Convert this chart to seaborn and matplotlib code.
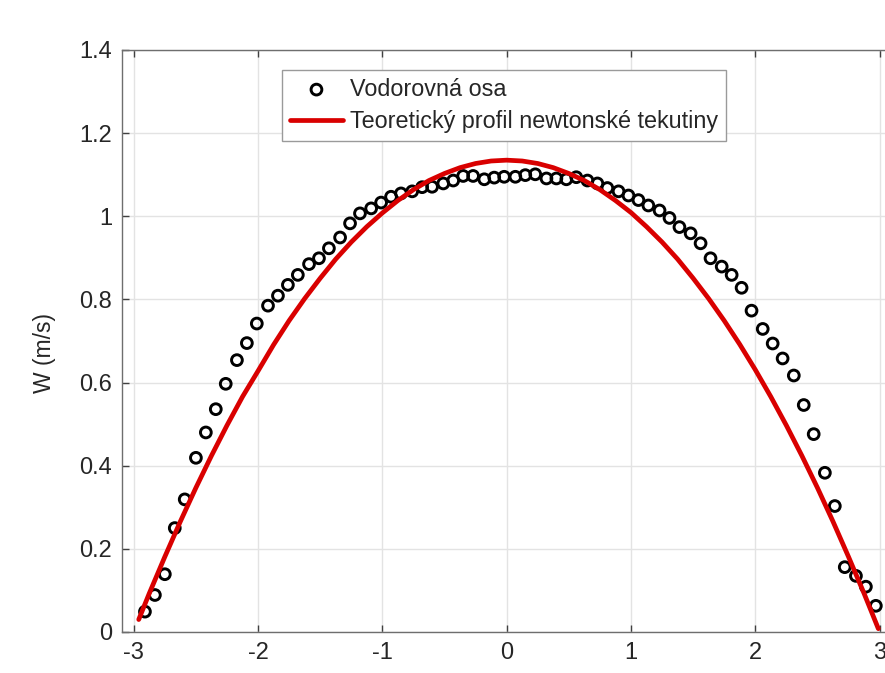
import numpy as np
import pandas as pd
import matplotlib
matplotlib.use("Agg")
import matplotlib.pyplot as plt
import seaborn as sns

# Measured points (Vodorovná osa)
x_meas = [-2.91, -2.83, -2.75, -2.67, -2.59, -2.50, -2.42, -2.34, -2.26, -2.17,
          -2.09, -2.01, -1.92, -1.84, -1.76, -1.68, -1.59, -1.51, -1.43, -1.34,
          -1.26, -1.18, -1.09, -1.01, -0.93, -0.85, -0.76, -0.68, -0.60, -0.51,
          -0.43, -0.35, -0.27, -0.18, -0.10, -0.02, 0.07, 0.15, 0.23, 0.32,
          0.40, 0.48, 0.56, 0.65, 0.73, 0.81, 0.90, 0.98, 1.06, 1.14,
          1.23, 1.31, 1.39, 1.48, 1.56, 1.64, 1.73, 1.81, 1.89, 1.97,
          2.06, 2.14, 2.22, 2.31, 2.39, 2.47, 2.56, 2.64, 2.72, 2.81,
          2.89, 2.97]
w_meas = [0.049, 0.089, 0.139, 0.250, 0.319, 0.419, 0.480, 0.536, 0.597, 0.654,
          0.695, 0.742, 0.785, 0.809, 0.835, 0.859, 0.885, 0.899, 0.923, 0.949,
          0.983, 1.007, 1.019, 1.033, 1.047, 1.055, 1.060, 1.070, 1.071, 1.079,
          1.086, 1.097, 1.097, 1.089, 1.093, 1.095, 1.095, 1.099, 1.101, 1.091,
          1.091, 1.089, 1.094, 1.086, 1.079, 1.068, 1.060, 1.050, 1.039, 1.026,
          1.014, 0.996, 0.974, 0.959, 0.935, 0.899, 0.879, 0.859, 0.828, 0.773,
          0.729, 0.694, 0.658, 0.617, 0.546, 0.476, 0.383, 0.303, 0.156, 0.135,
          0.109, 0.063]

# Theoretical profile
x_theo = [-2.96, -2.875, -2.75, -2.625, -2.5, -2.375, -2.25, -2.125, -2.0, -1.875,
          -1.75, -1.625, -1.5, -1.375, -1.25, -1.125, -1.0, -0.875, -0.75, -0.625,
          -0.5, -0.375, -0.25, -0.125, 0.0, 0.125, 0.25, 0.375, 0.5, 0.625,
          0.75, 0.875, 1.0, 1.125, 1.25, 1.375, 1.5, 1.625, 1.75, 1.875,
          2.0, 2.125, 2.25, 2.375, 2.5, 2.625, 2.75, 2.875, 2.99]
w_theo = [0.030, 0.093, 0.181, 0.266, 0.347, 0.424, 0.497, 0.566, 0.628, 0.691,
          0.749, 0.802, 0.851, 0.897, 0.938, 0.975, 1.008, 1.038, 1.064, 1.086,
          1.103, 1.117, 1.127, 1.133, 1.135, 1.133, 1.127, 1.117, 1.103, 1.086,
          1.064, 1.038, 1.009, 0.975, 0.938, 0.897, 0.851, 0.802, 0.749, 0.692,
          0.631, 0.566, 0.497, 0.424, 0.347, 0.266, 0.181, 0.093, 0.008]

label_meas = "Vodorovná osa"
label_theo = "Teoretický profil newtonské tekutiny"
x_ticks = [-3, -2, -1, 0, 1, 2, 3]
y_ticks = [0, 0.2, 0.4, 0.6, 0.8, 1.0, 1.2, 1.4]
y_ticklabels = ["0", "0.2", "0.4", "0.6", "0.8", "1", "1.2", "1.4"]
x_ticklabels = ["-3", "-2", "-1", "0", "1", "2", "3"]

sns.set_theme(style="white")
plt.rcParams["font.family"] = ["Liberation Sans", "DejaVu Sans"]

fig = plt.figure(figsize=(8.85, 6.73), dpi=100)
left = 121.7 / 885
bottom = (673 - 632) / 673
width = (892 - 121.7) / 885
height = 582 / 673
ax = fig.add_axes([left, bottom, width, height])

df_m = pd.DataFrame({"x": x_meas, "w": w_meas})
df_t = pd.DataFrame({"x": x_theo, "w": w_theo})

sns.scatterplot(data=df_m, x="x", y="w", ax=ax, marker="o", s=60,
                facecolor="none", edgecolor="black", linewidth=2.1,
                label=label_meas, zorder=3)
sns.lineplot(data=df_t, x="x", y="w", ax=ax, color="#d90000", linewidth=3.4,
             label=label_theo, zorder=4, sort=False)

ax.set_xlim(-3.097, 3.1)
ax.set_ylim(0, 1.4)
ax.set_xticks(x_ticks)
ax.set_xticklabels(x_ticklabels)
ax.set_yticks(y_ticks)
ax.set_yticklabels(y_ticklabels)
ax.grid(True, color="#e3e3e3", linewidth=1.0)
ax.set_axisbelow(True)

ax.set_xlabel("")
ax.set_ylabel("W (m/s)", fontsize=16.5, color="#262626")
ax.yaxis.set_label_coords(-0.085, 0.48)
ax.tick_params(axis="both", which="both", direction="in", length=5, width=1,
               colors="#404040", labelsize=17, labelcolor="#262626",
               top=True, right=True, left=True, bottom=True, pad=7)
for sp in ["left", "bottom", "top", "right"]:
    ax.spines[sp].set_visible(True)
    ax.spines[sp].set_color("#6e6e6e")
    ax.spines[sp].set_linewidth(1.0)

leg = ax.legend(loc="upper left", bbox_to_anchor=(0.208, 0.9656), borderaxespad=0,
                fontsize=16.8, frameon=True, fancybox=False, framealpha=1,
                edgecolor="#9a9a9a", handlelength=2.3, handletextpad=0.3,
                borderpad=0.33, labelspacing=0.4)
leg.get_frame().set_linewidth(1.0)

fig.savefig("out.png", dpi=100)
